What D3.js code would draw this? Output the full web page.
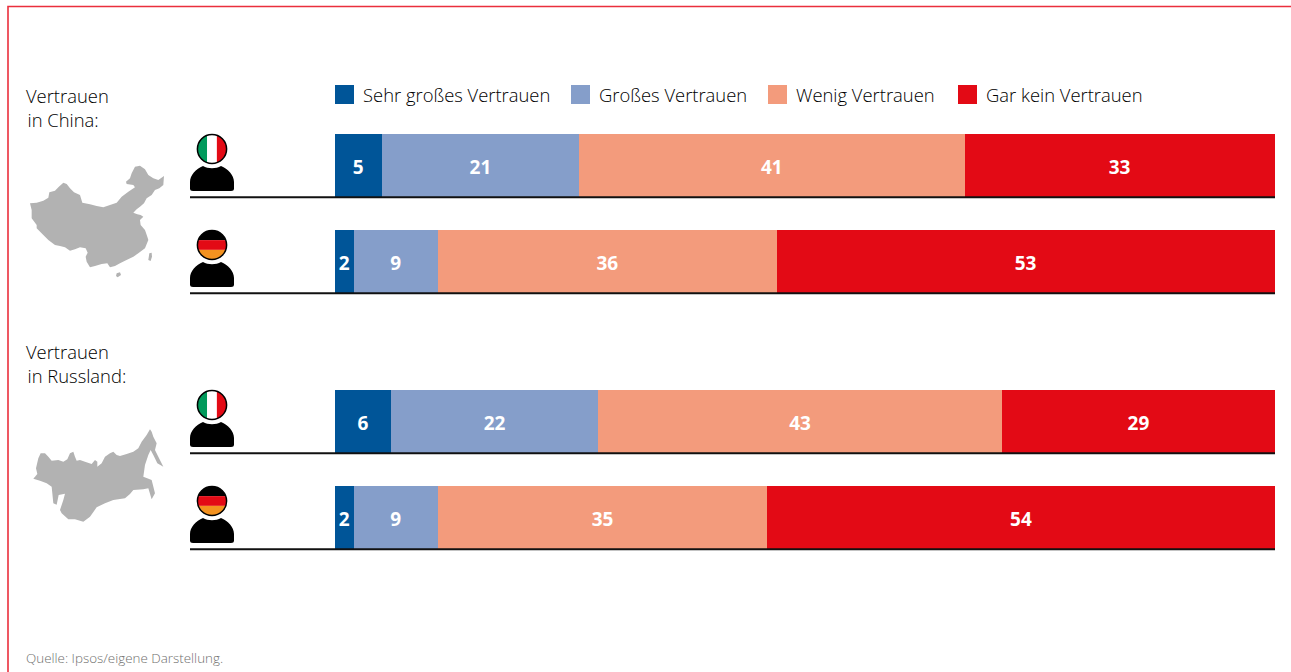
<!DOCTYPE html>
<html lang="de">
<head>
<meta charset="utf-8">
<title>Vertrauen in China und Russland</title>
<script src="https://cdn.jsdelivr.net/npm/d3@7"></script>
<style>
  html, body { margin: 0; padding: 0; background: #fff; overflow: hidden; }
  svg { display: block; font-family: "Open Sans", sans-serif; }
</style>
</head>
<body>
<svg id="chart" width="1291" height="672"></svg>
<script>
// Survey answers, in percent
const categories = ["Sehr großes Vertrauen", "Großes Vertrauen", "Wenig Vertrauen", "Gar kein Vertrauen"];
const colors = ["#005598", "#859ECA", "#F39B7C", "#E30A15"];
const groups = ["in China:", "in Russland:"];
const countries = ["Italien", "Deutschland"];
const chinaItaly = [5, 21, 41, 33];
const chinaGermany = [2, 9, 36, 53];
const russiaItaly = [6, 22, 43, 29];
const russiaGermany = [2, 9, 35, 54];
const source = "Quelle: Ipsos/eigene Darstellung.";

// Outlines of the two country silhouettes, in a 3x local drawing space
const chinaOutline = [[30,130],[50,128],[70,122],[85,113],[88,97],[105,92],[115,82],[130,68],[140,72],[150,85],[162,97],[180,105],[187,128],[210,133],[230,138],[250,142],[270,135],[290,128],[305,110],[325,95],[345,82],[340,75],[320,72],[318,65],[330,55],[335,40],[345,20],[360,17],[375,28],[385,45],[400,55],[415,60],[432,48],[430,75],[418,85],[405,90],[395,105],[380,115],[372,130],[360,140],[350,148],[340,158],[352,163],[362,165],[370,170],[360,180],[362,195],[375,210],[382,230],[385,240],[375,265],[355,280],[340,290],[315,302],[300,310],[285,318],[270,322],[262,310],[245,312],[225,318],[210,322],[200,305],[197,290],[203,278],[197,265],[180,262],[165,268],[150,272],[135,262],[120,258],[105,255],[85,240],[70,225],[50,205],[50,195],[35,175],[35,150]];
const taiwanOutline = [[388,280],[395,278],[396,290],[392,303],[385,300]];
const hainanOutline = [[290,340],[300,337],[303,345],[293,352],[288,348]];
const russiaOutline = [[40,176],[52,162],[48,145],[55,115],[62,100],[75,100],[85,110],[95,122],[115,120],[130,125],[142,118],[150,100],[160,95],[165,110],[170,122],[180,120],[195,125],[215,132],[225,120],[232,125],[232,140],[245,130],[255,110],[270,100],[280,95],[290,105],[300,108],[320,102],[340,95],[355,85],[365,65],[380,45],[390,28],[395,35],[400,50],[410,70],[405,90],[415,110],[430,140],[412,130],[400,105],[392,90],[385,105],[375,135],[370,170],[395,180],[405,220],[395,238],[385,205],[370,208],[340,210],[330,222],[315,235],[280,240],[255,250],[230,262],[210,290],[190,305],[165,298],[145,298],[125,280],[120,270],[130,240],[135,221],[116,225],[110,254],[100,250],[95,200],[80,190],[60,182]];

const rows = [
  { group: 0, row: 0, flag: "it", values: chinaItaly },
  { group: 0, row: 1, flag: "de", values: chinaGermany },
  { group: 1, row: 0, flag: "it", values: russiaItaly },
  { group: 1, row: 1, flag: "de", values: russiaGermany }
];

const svg = d3.select("#chart");
const x = d3.scaleLinear().domain([0, 100]).range([335, 1275]);
const groupY = d3.scaleOrdinal().domain([0, 1]).range([134, 390]);
const barHeight = 63;
const rowStep = 96;
const rowTop = d => groupY(d.group) + d.row * rowStep;
const textColor = "#000";

// Page frame: red rule along the top and the left edge
svg.append("path")
  .attr("d", "M1291,6.5H8V672")
  .attr("fill", "none")
  .attr("stroke", "#EA2F3C")
  .attr("stroke-width", 1.6);

// Legend
const legendX = [335, 571, 768, 958];
const legend = svg.append("g").selectAll("g").data(categories).join("g")
  .attr("transform", (d, i) => `translate(${legendX[i]},85)`);
legend.append("rect").attr("width", 19).attr("height", 19).attr("fill", (d, i) => colors[i]);
legend.append("text")
  .attr("x", 28).attr("y", 16.5)
  .attr("font-size", 18.4).attr("font-weight", 300).attr("fill", textColor)
  .text(d => d);

// Group headings
const headings = svg.append("g").selectAll("g").data(groups).join("g")
  .attr("transform", (d, i) => `translate(26,${[103, 359][i]})`);
headings.append("text").attr("font-size", 18.4).attr("font-weight", 300).attr("fill", textColor).text("Vertrauen");
headings.append("text").attr("x", 1.5).attr("y", 24).attr("font-size", 18.4).attr("font-weight", 300).attr("fill", textColor).text(d => d);

// Country silhouettes
const outline = d3.line().curve(d3.curveLinearClosed);
const china = svg.append("g").attr("transform", "translate(20,160) scale(0.3333)").attr("fill", "#B2B2B2");
[chinaOutline, taiwanOutline, hainanOutline].forEach(o => china.append("path").attr("d", outline(o)));
svg.append("g").attr("transform", "translate(20,420) scale(0.3333)").attr("fill", "#B2B2B2")
  .append("path").attr("d", outline(russiaOutline));

// Stacked bars, one row per country and survey
const stackRow = values => {
  const table = [Object.fromEntries(categories.map((c, i) => [c, values[i]]))];
  return d3.stack().keys(categories)(table).map((s, i) => ({
    key: s.key, i, x0: s[0][0], x1: s[0][1], value: values[i]
  }));
};

const row = svg.append("g").selectAll("g").data(rows).join("g")
  .attr("transform", d => `translate(0,${rowTop(d)})`);

row.selectAll("rect").data(d => stackRow(d.values)).join("rect")
  .attr("x", d => x(d.x0))
  .attr("width", d => x(d.x1) - x(d.x0))
  .attr("height", barHeight)
  .attr("shape-rendering", "crispEdges")
  .attr("fill", d => colors[d.i]);

row.selectAll("text").data(d => stackRow(d.values)).join("text")
  .attr("x", d => (x(d.x0) + x(d.x1)) / 2 - 0.3)
  .attr("y", 40)
  .attr("text-anchor", "middle")
  .attr("font-size", 19)
  .attr("font-weight", 700)
  .attr("fill", "#fff")
  .text(d => d.value);

// Rule under each row
row.append("line")
  .attr("x1", 190).attr("x2", x(100))
  .attr("y1", barHeight + 0.2).attr("y2", barHeight + 0.2)
  .attr("stroke", "#111").attr("stroke-width", 1.9);

// Person icon with a flag as the head
const flags = {
  it: { dir: "v", bands: ["#009A5B", "#fff", "#E30A15"] },
  de: { dir: "h", bands: ["#000", "#E30A15", "#F39220"] }
};
const headR = 14.6, headX = 212, headY = 15;
const defs = svg.append("defs");
defs.append("clipPath").attr("id", "head").append("circle").attr("cx", headX).attr("cy", headY).attr("r", headR);

row.each(function (d) {
  const g = d3.select(this);
  const flag = flags[d.flag];
  const band = headR * 2 / 3;
  const head = g.append("g").attr("clip-path", "url(#head)");
  flag.bands.forEach((c, i) => {
    head.append("rect")
      .attr("x", flag.dir === "v" ? headX - headR + i * band : headX - headR)
      .attr("y", flag.dir === "h" ? headY - headR + i * band : headY - headR)
      .attr("width", flag.dir === "v" ? band : headR * 2)
      .attr("height", flag.dir === "h" ? band : headR * 2)
      .attr("fill", c);
  });
  g.append("circle")
    .attr("cx", headX).attr("cy", headY).attr("r", headR)
    .attr("fill", "none").attr("stroke", "#000").attr("stroke-width", 1.5);
  g.append("path")
    .attr("d", "M190,54.5V48C190,41 196,35 203,32C208,35 216,35 221,32C228,35 234,41 234,48V54.5Q234,57 231,57H193Q190,57 190,54.5Z")
    .attr("fill", "#000");
});

// Source line
svg.append("text")
  .attr("x", 26).attr("y", 663)
  .attr("font-size", 13.4).attr("font-weight", 300).attr("fill", "#6f6f6e")
  .text(source);
</script>
</body>
</html>
